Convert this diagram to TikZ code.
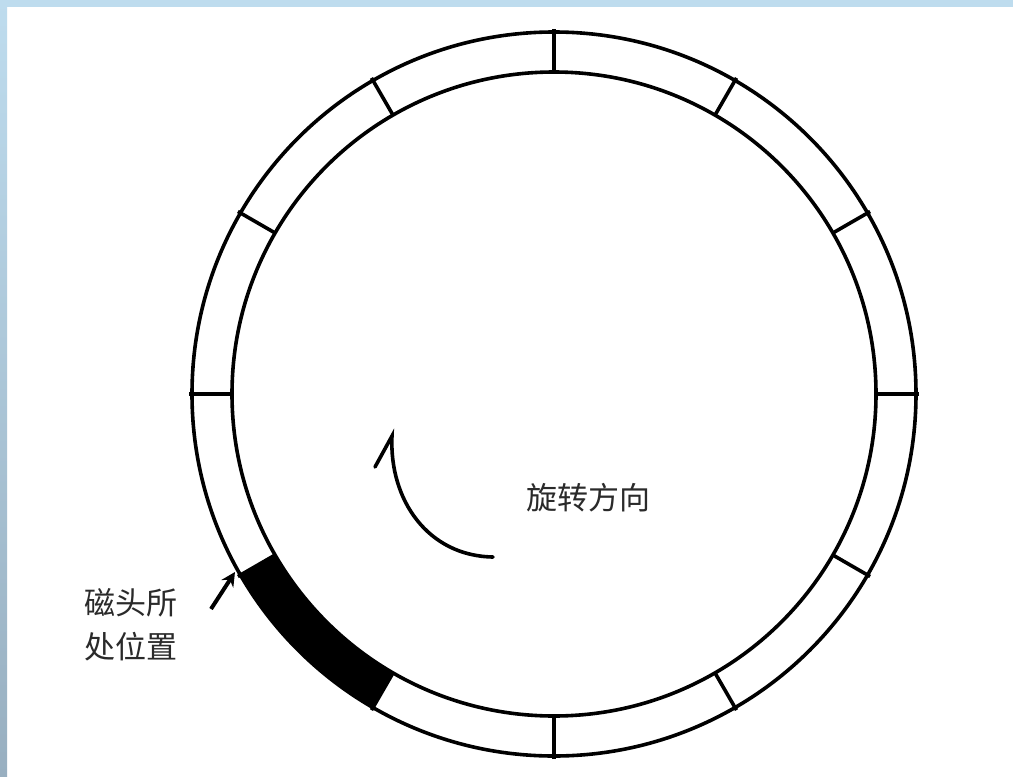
\documentclass[tikz,border=0pt]{standalone}
\usepackage{fontspec}
\newfontfamily\cjk{Noto Sans CJK SC}
\usetikzlibrary{calc,arrows.meta}
\definecolor{frameblue}{HTML}{BEDCEE}
\definecolor{framebot}{HTML}{98AFC0}
\definecolor{txt}{HTML}{2A2A2A}
\tikzset{
  ring/.style={draw=black,line width=3.6pt},
  tickline/.style={draw=black,line width=3.6pt},
  lbl/.style={font=\cjk\fontsize{31}{38}\selectfont,text=txt,inner sep=0pt,align=left},
  conn/.style={draw=black,line width=3.6pt,line cap=round}
}
\begin{document}
\begin{tikzpicture}[x=1pt,y=-1pt]
\useasboundingbox (0,0) rectangle (1013,777);
\fill[white] (0,0) rectangle (1013,777);
\fill[frameblue] (0,0) rectangle (1013,7);
\shade[top color=frameblue,bottom color=framebot] (0,0) rectangle (7,777);
\coordinate (c) at (554,394);
% black head sector
\fill[black] ($(c)+(-210:362)$) arc[start angle=-210,end angle=-240,radius=362]
  -- ($(c)+(-240:322)$) arc[start angle=-240,end angle=-210,radius=322] -- cycle;
\draw[ring] (c) circle[radius=362];
\draw[ring] (c) circle[radius=322];
\foreach \a in {0,30,...,330}
  \draw[tickline] ($(c)+(\a:365)$) -- ($(c)+(\a:322)$);
% rotation arrow
\coordinate (rotS) at (493,557);
\coordinate (rotE) at (392,436);
\draw[conn] (rotS) .. controls (428,556) and (389,500) .. (rotE) -- ++(-17,31);
\node[lbl] (rot) at (588,498) {旋转方向};
% head label and arrow
\node[lbl] (head) at (131,625) {磁头所\\[6pt]处位置};
\coordinate (hs) at (211,609);
\coordinate (he) at (235,572);
\draw[line width=4pt,-{Stealth[length=14pt,width=14pt]}] (hs) -- (he);
\end{tikzpicture}
\end{document}
